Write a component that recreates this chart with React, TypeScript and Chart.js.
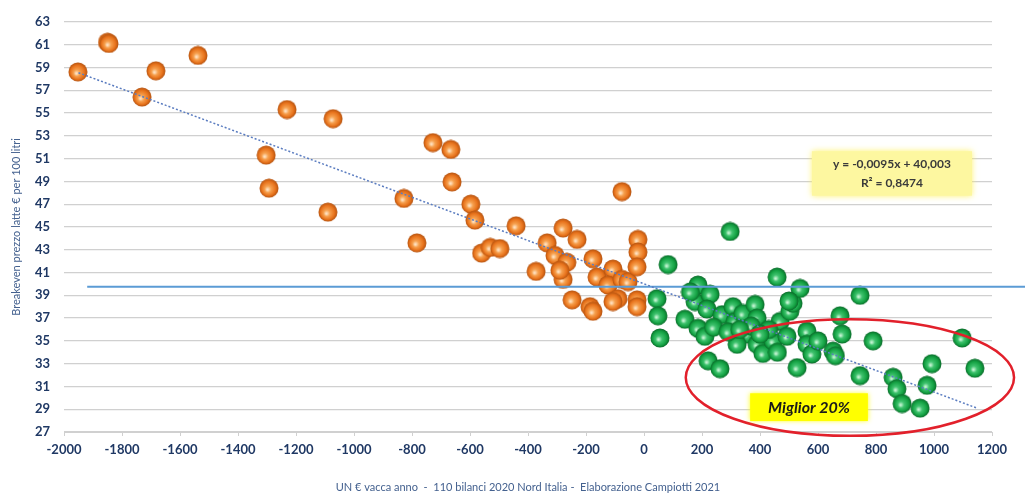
import React, { useEffect, useRef } from "react";
import { Chart, registerables } from "chart.js";

Chart.register(...registerables);

// ---- Data ----
const orangeX = [
  -1952, -1850, -1845, -1731, -1683, -1538, -1231, -1072, -1303, -1293,
  -1090, -828, -783, -728, -666, -662, -597, -583, -560, -530,
  -497, -441, -372, -334, -307, -279, -231, -266, -279, -248,
  -176, -162, -107, -124, -186, -176, -76, -76, -90, -55,
  -21, -21, -24, -24, -24, -107, -290,
];
const orangeY = [
  58.6, 61.2, 61.1, 56.4, 58.7, 60.05, 55.3, 54.5, 51.3, 48.4,
  46.3, 47.5, 43.6, 52.4, 51.8, 48.95, 47.0, 45.6, 42.7, 43.2,
  43.1, 45.1, 41.1, 43.6, 42.5, 44.9, 43.9, 41.9, 40.4, 38.6,
  42.2, 40.6, 41.3, 39.9, 38.0, 37.6, 48.1, 40.4, 38.7, 40.2,
  43.9, 42.8, 41.5, 38.6, 38.0, 38.45, 41.2,
];
const greenX = [
  297, 83, 45, 48, 55, 141, 186, 176, 228, 217,
  186, 210, 221, 262, 269, 307, 314, 341, 383, 390,
  355, 321, 390, 410, 445, 459, 469, 503, 514, 538,
  528, 562, 562, 579, 493, 676, 683, 652, 745, 790,
  745, 859, 872, 890, 952, 976, 993, 1097, 1141, 240,
  290, 370, 430, 460, 330, 400, 600, 660, 160, 500,
];
const greenY = [
  44.6, 41.7, 38.7, 37.2, 35.25, 36.9, 39.9, 38.45, 39.1, 37.8,
  36.1, 35.4, 33.25, 32.56, 37.3, 38.0, 36.7, 37.4, 38.2, 37.0,
  35.6, 34.7, 34.7, 33.9, 35.0, 40.6, 36.7, 37.6, 38.3, 39.6,
  32.65, 35.85, 34.7, 33.85, 35.4, 37.2, 35.6, 34.1, 39.0, 35.0,
  31.95, 31.8, 30.8, 29.5, 29.1, 31.1, 33.0, 35.25, 32.6, 36.2,
  35.8, 36.3, 36.0, 34.0, 36.0, 35.6, 35.0, 33.7, 39.3, 38.5,
];
// linear trend line endpoints (y = -0.0095x + 40.003)
const trendX = [-1950, 1150];
const trendY = [58.53, 29.08];
// horizontal reference line
const refX = [-1920, 1330];
const refY = [39.75, 39.75];

const xMin = -2000;
const xMax = 1200;
const xStep = 200;
const yMin = 27;
const yMax = 63;
const yStep = 2;

const yTitle = "Breakeven prezzo latte € per 100 litri";
const xTitle = "UN € vacca anno  -  110 bilanci 2020 Nord Italia -  Elaborazione Campiotti 2021";
const eqLines = ["y = -0,0095x + 40,003", "R² = 0,8474"];
const bestLabel = "Miglior 20%";

// annotation anchors in data units
const ellipseC = { x: 710, y: 31.78, rx: 566, ry: 5.12 };
const eqBox = { x1: 579, x2: 1131, y1: 51.64, y2: 47.74 };
const bestBox = { x1: 366, x2: 772, y1: 30.4, y2: 27.96 };

function makeSphere(stops: [number, string][]): HTMLCanvasElement {
  const size = 20;
  const c = document.createElement("canvas");
  c.width = size;
  c.height = size;
  const g = c.getContext("2d")!;
  const r = size / 2 - 0.5;
  const grad = g.createRadialGradient(size * 0.42, size * 0.58, 0.5, size / 2, size / 2, r);
  stops.forEach(([o, col]) => grad.addColorStop(o, col));
  g.beginPath();
  g.arc(size / 2, size / 2, r, 0, Math.PI * 2);
  g.fillStyle = grad;
  g.fill();
  return c;
}

const toPts = (xs: number[], ys: number[]) => xs.map((x, i) => ({ x, y: ys[i] }));

const annotPlugin = {
  id: "annots",
  afterDatasetsDraw(chart: any) {
    const { ctx, scales } = chart;
    const x = scales.x;
    const y = scales.y;
    ctx.save();
    // red ellipse
    const cx = x.getPixelForValue(ellipseC.x);
    const cy = y.getPixelForValue(ellipseC.y);
    const rx = x.getPixelForValue(ellipseC.x + ellipseC.rx) - cx;
    const ry = cy - y.getPixelForValue(ellipseC.y + ellipseC.ry);
    ctx.beginPath();
    ctx.ellipse(cx, cy, rx, ry, 0, 0, Math.PI * 2);
    ctx.strokeStyle = "#e2202b";
    ctx.lineWidth = 2.5;
    ctx.stroke();

    // equation box
    const ex1 = x.getPixelForValue(eqBox.x1);
    const ex2 = x.getPixelForValue(eqBox.x2);
    const ey1 = y.getPixelForValue(eqBox.y1);
    const ey2 = y.getPixelForValue(eqBox.y2);
    ctx.shadowColor = "rgba(255,240,80,0.8)";
    ctx.shadowBlur = 6;
    ctx.fillStyle = "#fdf7a0";
    ctx.fillRect(ex1, ey1, ex2 - ex1, ey2 - ey1);
    ctx.shadowBlur = 0;
    ctx.fillStyle = "#3a3a3a";
    ctx.font = "bold 12px Lato, 'Open Sans', sans-serif";
    ctx.textAlign = "center";
    ctx.textBaseline = "middle";
    const emx = (ex1 + ex2) / 2;
    ctx.fillText(eqLines[0], emx, ey1 + (ey2 - ey1) * 0.3);
    ctx.fillText(eqLines[1], emx, ey1 + (ey2 - ey1) * 0.72);

    // "Miglior 20%" box
    const bx1 = x.getPixelForValue(bestBox.x1);
    const bx2 = x.getPixelForValue(bestBox.x2);
    const by1 = y.getPixelForValue(bestBox.y1);
    const by2 = y.getPixelForValue(bestBox.y2);
    ctx.shadowColor = "rgba(255,255,0,0.9)";
    ctx.shadowBlur = 5;
    ctx.fillStyle = "#ffff00";
    ctx.fillRect(bx1, by1, bx2 - bx1, by2 - by1);
    ctx.shadowBlur = 0;
    ctx.fillStyle = "#1a1a1a";
    ctx.font = "italic bold 16px Lato, 'Open Sans', sans-serif";
    ctx.fillText(bestLabel, (bx1 + bx2) / 2, (by1 + by2) / 2 + 1);
    ctx.restore();
  },
};

export default function App() {
  const ref = useRef<HTMLCanvasElement | null>(null);

  useEffect(() => {
    if (!ref.current) return;
    document.body.style.margin = "0";
    const orangeSphere = makeSphere([
      [0, "#ffe2c2"],
      [0.3, "#f6a04e"],
      [0.72, "#e8731c"],
      [1, "#b4520f"],
    ]);
    const greenSphere = makeSphere([
      [0, "#c6f5d4"],
      [0.3, "#3fc26e"],
      [0.72, "#14a243"],
      [1, "#0a6b2a"],
    ]);

    const tickFont = { family: "Lato, 'Open Sans', sans-serif", size: 13, weight: "bold" as const };

    const chart = new Chart(ref.current, {
      type: "scatter",
      data: {
        datasets: [
          {
            label: "trend",
            type: "line",
            data: toPts(trendX, trendY),
            borderColor: "#5a7cc0",
            borderWidth: 1.5,
            borderDash: [2, 2],
            pointRadius: 0,
            showLine: true,
            fill: false,
            order: 0,
          },
          {
            label: "ref",
            type: "line",
            data: toPts(refX, refY),
            borderColor: "#5b9bd5",
            borderWidth: 2,
            pointRadius: 0,
            showLine: true,
            fill: false,
            clip: false as any,
            order: 1,
          },
          {
            label: "orange",
            data: toPts(orangeX, orangeY),
            pointStyle: orangeSphere as any,
            pointRadius: 10,
            order: 2,
          },
          {
            label: "green",
            data: toPts(greenX, greenY),
            pointStyle: greenSphere as any,
            pointRadius: 10,
            order: 3,
          },
        ],
      },
      options: {
        animation: false,
        responsive: true,
        maintainAspectRatio: false,
        layout: { padding: { left: 0, right: 33, top: 11, bottom: 0 } },
        plugins: {
          legend: { display: false },
          tooltip: { enabled: false },
          title: { display: false },
        },
        scales: {
          x: {
            type: "linear",
            min: xMin,
            max: xMax,
            ticks: {
              stepSize: xStep,
              padding: 6,
              color: "#1f3864",
              font: tickFont,
              callback: (v: any) => String(v),
            },
            grid: {
              display: true,
              drawOnChartArea: false,
              drawTicks: true,
              tickLength: 4,
              color: "#d0d0d0",
            },
            border: { display: true, color: "#d0d0d0" },
            title: {
              display: true,
              text: xTitle,
              color: "#44618f",
              font: { family: "Lato, 'Open Sans', sans-serif", size: 11 },
              padding: { top: 4, bottom: 4 },
            },
            afterFit: (s: any) => {
              s.height = 66;
            },
          },
          y: {
            type: "linear",
            min: yMin,
            max: yMax,
            ticks: {
              stepSize: yStep,
              padding: 14,
              color: "#1f3864",
              font: tickFont,
              callback: (v: any) => String(v),
            },
            grid: {
              color: "#d0d0d0",
              lineWidth: 1.2,
              drawTicks: false,
            },
            border: { display: false },
            title: {
              display: true,
              text: yTitle,
              color: "#44618f",
              font: { family: "Lato, 'Open Sans', sans-serif", size: 11 },
              padding: { top: 10, bottom: 0 },
            },
            afterFit: (s: any) => {
              s.width = 64;
            },
          },
        },
      },
      plugins: [annotPlugin],
    });
    return () => chart.destroy();
  }, []);

  return (
    <div style={{ position: "fixed", left: 0, top: 0, width: 1025, height: 498, background: "#fff" }}>
      <canvas ref={ref} />
    </div>
  );
}
